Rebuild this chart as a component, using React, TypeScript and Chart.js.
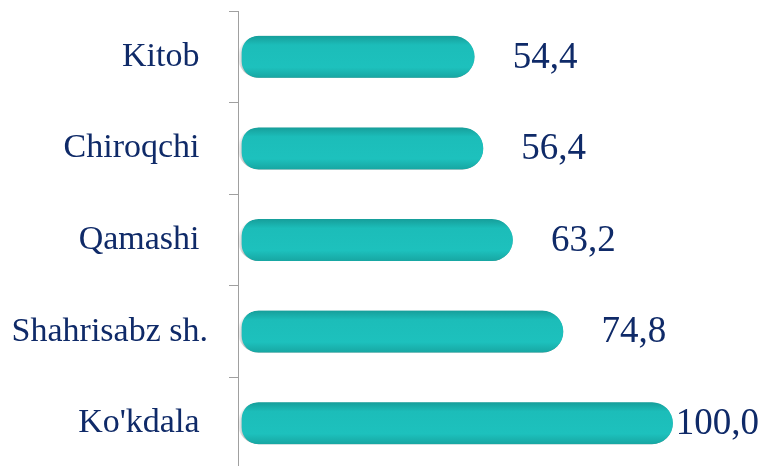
import React, { useEffect, useRef } from "react";
import { Chart, registerables } from "chart.js";

Chart.register(...registerables);

const categories = ["Kitob ", "Chiroqchi ", "Qamashi ", "Shahrisabz sh.", "Ko'kdala "];
const values = [54.4, 56.4, 63.2, 74.8, 100.0];

const NAVY = "#0f2a68";
const SERIF = "'Liberation Serif', 'Times New Roman', serif";

const shadowAndLabels = {
  id: "shadowAndLabels",
  beforeDatasetsDraw(chart: any) {
    const ctx = chart.ctx;
    ctx.save();
    ctx.shadowColor = "rgba(0,0,0,0.38)";
    ctx.shadowBlur = 5;
    ctx.shadowOffsetX = 0;
    ctx.shadowOffsetY = 3;
  },
  afterDatasetsDraw(chart: any) {
    const ctx = chart.ctx;
    ctx.restore();
    const meta = chart.getDatasetMeta(0);
    ctx.save();
    ctx.font = `37px ${SERIF}`;
    ctx.fillStyle = NAVY;
    ctx.textAlign = "left";
    ctx.textBaseline = "middle";
    meta.data.forEach((bar: any, i: number) => {
      const txt = values[i].toFixed(1).replace(".", ",");
      const w = ctx.measureText(txt).width;
      let x = bar.x + 38;
      if (x + w > chart.width - 1) x = chart.width - 1 - w;
      ctx.fillText(txt, x, bar.y + 1);
    });
    ctx.restore();
  },
};

export default function App() {
  const ref = useRef<HTMLCanvasElement | null>(null);

  useEffect(() => {
    if (!ref.current) return;
    const chart = new Chart(ref.current, {
      type: "bar",
      data: {
        labels: categories,
        datasets: [
          {
            data: values,
            backgroundColor: (c: any) => {
              const ys = c.chart.scales && c.chart.scales.y;
              if (!ys || c.type !== "data") return "#1dbfbb";
              const yc = ys.getPixelForValue(c.dataIndex);
              if (!isFinite(yc)) return "#1dbfbb";
              const g = c.chart.ctx.createLinearGradient(0, yc - 21, 0, yc + 21);
              g.addColorStop(0, "#169e9a");
              g.addColorStop(0.22, "#1cbdb9");
              g.addColorStop(0.75, "#1dc1bd");
              g.addColorStop(1, "#17a6a2");
              return g;
            },
            borderColor: "rgba(0,0,0,0)",
            borderWidth: { top: 0, right: 0, bottom: 0, left: 4 },
            borderSkipped: false,
            borderRadius: 21,
            barThickness: 42,
          },
        ],
      },
      options: {
        indexAxis: "y",
        animation: false,
        responsive: false,
        devicePixelRatio: 1,
        layout: { padding: { top: 11, bottom: 1, right: 87, left: 0 } },
        plugins: {
          legend: { display: false },
          tooltip: { enabled: false },
        },
        scales: {
          x: { display: false, min: 0, max: 100 },
          y: {
            afterFit: (scale: any) => {
              scale.width = 238;
              scale.paddingTop = 0;
              scale.paddingBottom = 0;
            },
            grid: {
              display: true,
              drawOnChartArea: false,
              drawTicks: true,
              tickLength: 9,
              color: "#a0a0a0",
              offset: true,
            },
            border: { display: true, color: "#a0a0a0", width: 1 },
            ticks: {
              autoSkip: false,
              color: NAVY,
              padding: 21,
              font: { family: SERIF, size: 34 },
            },
          },
        },
      },
      plugins: [shadowAndLabels],
    } as any);
    return () => chart.destroy();
  }, []);

  return (
    <div style={{ position: "absolute", left: 0, top: 0, width: 760, height: 470, background: "#fff" }}>
      <canvas ref={ref} width={760} height={470} />
    </div>
  );
}
